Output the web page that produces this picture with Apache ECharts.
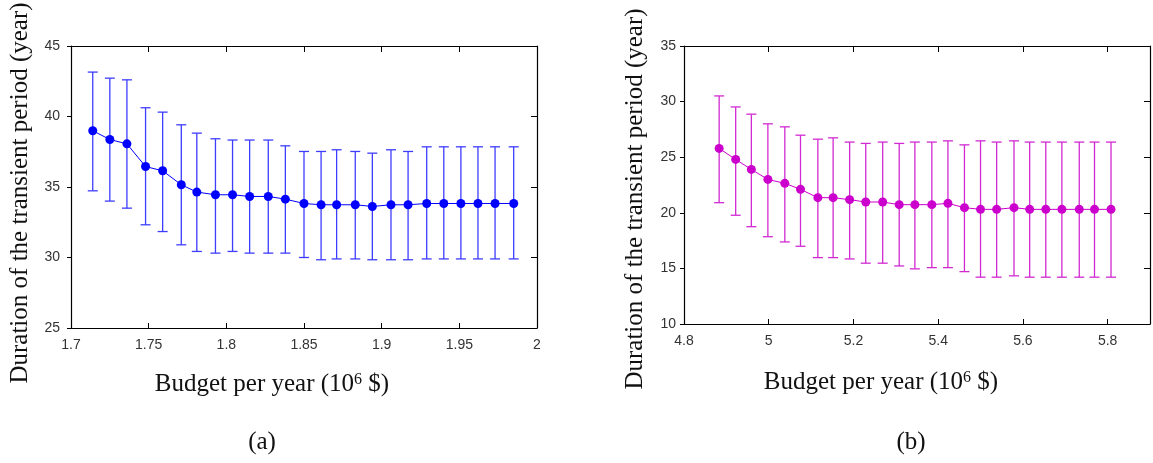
<!DOCTYPE html>
<html>
<head>
<meta charset="utf-8">
<script src="https://cdn.jsdelivr.net/npm/echarts@6/dist/echarts.min.js"></script>
<style>
html,body{margin:0;padding:0;background:#fff;}
#chart{width:1153px;height:463px;}
</style>
</head>
<body>
<div id="chart"></div>
<script>
// ---- Data ----
const budgetA = [1.714,1.725,1.736,1.748,1.759,1.771,1.781,1.793,1.804,1.815,1.827,1.838,1.850,1.861,1.871,1.883,1.894,1.906,1.917,1.929,1.940,1.951,1.962,1.973,1.985];
const meanA   = [38.99,38.37,38.06,36.45,36.15,35.16,34.64,34.45,34.45,34.33,34.33,34.14,33.83,33.74,33.74,33.74,33.62,33.74,33.74,33.83,33.83,33.83,33.83,33.83,33.83];
const upperA  = [43.15,42.72,42.60,40.62,40.31,39.41,38.82,38.42,38.33,38.33,38.33,37.92,37.52,37.52,37.64,37.52,37.40,37.64,37.52,37.85,37.85,37.85,37.85,37.85,37.85];
const lowerA  = [34.73,34.00,33.50,32.32,31.84,30.90,30.43,30.31,30.43,30.31,30.31,30.31,30.00,29.84,29.90,29.90,29.84,29.84,29.84,29.90,29.90,29.90,29.90,29.90,29.90];

const budgetB = [4.883,4.922,4.959,4.998,5.038,5.075,5.116,5.152,5.191,5.229,5.269,5.308,5.345,5.385,5.423,5.462,5.500,5.538,5.579,5.616,5.654,5.692,5.733,5.769,5.808];
const meanB   = [25.79,24.80,23.90,23.00,22.65,22.11,21.36,21.36,21.18,20.97,20.97,20.73,20.73,20.73,20.85,20.46,20.31,20.31,20.46,20.31,20.31,20.31,20.31,20.31,20.31];
const upperB  = [30.51,29.52,28.87,28.00,27.73,26.98,26.62,26.74,26.36,26.24,26.36,26.24,26.36,26.36,26.47,26.11,26.47,26.36,26.47,26.36,26.36,26.36,26.36,26.36,26.36];
const lowerB  = [20.91,19.78,18.75,17.85,17.38,16.99,15.97,15.97,15.85,15.47,15.47,15.22,14.96,15.07,15.07,14.71,14.21,14.21,14.33,14.21,14.21,14.21,14.21,14.21,14.21];

const xRangeA = {min: 1.7, max: 2.0, interval: 0.05};
const yRangeA = {min: 25, max: 45, interval: 5};
const xRangeB = {min: 4.8, max: 5.9, interval: 0.2};
const yRangeB = {min: 10, max: 35, interval: 5};

const xTitle = 'Budget per year (10{sup|6} $)';
const yTitle = 'Duration of the transient period (year)';
const panelLabels = ['(a)', '(b)'];

// ---- Chart ----
const chart = echarts.init(document.getElementById('chart'), null, {renderer: 'canvas'});
const serif = '"Liberation Serif", "Times New Roman", serif';
const labelFont = {fontFamily: '"Liberation Sans", Arial, sans-serif', fontSize: 14, color: '#333'};
const lineCol = '#000';

function xAxisPair(range, gridIndex, showMax) {
  return [
    Object.assign({type: 'value', gridIndex, position: 'bottom',
      axisLine: {show: true, onZero: false, lineStyle: {color: lineCol, width: 1.2}},
      axisTick: {show: true, inside: true, length: 5, lineStyle: {color: lineCol}},
      axisLabel: Object.assign({show: true, margin: 10, showMaxLabel: showMax, showMinLabel: true}, labelFont),
      splitLine: {show: false}}, range),
    Object.assign({type: 'value', gridIndex, position: 'top',
      axisLine: {show: true, onZero: false, lineStyle: {color: lineCol, width: 1.2}},
      axisTick: {show: true, inside: true, length: 6, lineStyle: {color: lineCol}},
      axisLabel: {show: false}, splitLine: {show: false}}, range)
  ];
}
function yAxisPair(range, gridIndex, margin) {
  return [
    Object.assign({type: 'value', gridIndex, position: 'left',
      axisLine: {show: true, onZero: false, lineStyle: {color: lineCol, width: 1.2}},
      axisTick: {show: true, inside: false, length: 4, lineStyle: {color: lineCol}},
      axisLabel: Object.assign({show: true, margin: margin, showMaxLabel: true, showMinLabel: true}, labelFont),
      splitLine: {show: false}}, range),
    Object.assign({type: 'value', gridIndex, position: 'right',
      axisLine: {show: true, onZero: false, lineStyle: {color: lineCol, width: 1.2}},
      axisTick: {show: true, inside: true, length: 6, lineStyle: {color: lineCol}},
      axisLabel: {show: false}, splitLine: {show: false}}, range)
  ];
}

function errorSeries(xs, lo, hi, xi, yi, color) {
  return {
    type: 'custom', xAxisIndex: xi, yAxisIndex: yi, z: 2,
    data: xs.map((x, i) => [x, lo[i], hi[i]]),
    renderItem: function (params, api) {
      const x = api.value(0);
      const pLo = api.coord([x, api.value(1)]);
      const pHi = api.coord([x, api.value(2)]);
      const w = 5;
      const st = {stroke: color, lineWidth: 1.3};
      return {type: 'group', children: [
        {type: 'line', shape: {x1: pLo[0], y1: pLo[1], x2: pHi[0], y2: pHi[1]}, style: st},
        {type: 'line', shape: {x1: pHi[0] - w, y1: pHi[1], x2: pHi[0] + w, y2: pHi[1]}, style: st},
        {type: 'line', shape: {x1: pLo[0] - w, y1: pLo[1], x2: pLo[0] + w, y2: pLo[1]}, style: st}
      ]};
    }
  };
}
function meanSeries(xs, ys, xi, yi, color) {
  return {
    type: 'line', xAxisIndex: xi, yAxisIndex: yi, z: 3,
    data: xs.map((x, i) => [x, ys[i]]),
    symbol: 'circle', symbolSize: 9, showSymbol: true,
    lineStyle: {color: color, width: 1},
    itemStyle: {color: color},
    animation: false
  };
}

const titleStyle = {fontFamily: serif, fontSize: 25, fill: '#111'};
const supRich = {sup: {fontFamily: serif, fontSize: 16, verticalAlign: 'top', fill: '#111'}};

const option = {
  backgroundColor: '#fff',
  animation: false,
  grid: [
    {left: 71, top: 46, width: 466, height: 282, containLabel: false, outerBoundsMode: 'none', show: false},
    {left: 684, top: 46, width: 466, height: 278, containLabel: false, outerBoundsMode: 'none', show: false}
  ],
  xAxis: [].concat(xAxisPair(xRangeA, 0, true), xAxisPair(xRangeB, 1, false)),
  yAxis: [].concat(yAxisPair(yRangeA, 0, 11), yAxisPair(yRangeB, 1, 8)),
  series: [
    errorSeries(budgetA, lowerA, upperA, 0, 0, '#3d3dff'),
    meanSeries(budgetA, meanA, 0, 0, '#0000ff'),
    errorSeries(budgetB, lowerB, upperB, 2, 2, '#d22ad2'),
    meanSeries(budgetB, meanB, 2, 2, '#cc00cc')
  ],
  graphic: [
    {type: 'text', x: 272, y: 384, style: Object.assign({text: xTitle, align: 'center', verticalAlign: 'middle', rich: supRich}, titleStyle)},
    {type: 'text', x: 881, y: 382, style: Object.assign({text: xTitle, align: 'center', verticalAlign: 'middle', rich: supRich}, titleStyle)},
    {type: 'text', x: 20, y: 193, rotation: Math.PI / 2, style: Object.assign({text: yTitle, align: 'center', verticalAlign: 'middle'}, titleStyle)},
    {type: 'text', x: 635, y: 199, rotation: Math.PI / 2, style: Object.assign({text: yTitle, align: 'center', verticalAlign: 'middle'}, titleStyle)},
    {type: 'text', x: 262, y: 442, style: Object.assign({text: panelLabels[0], align: 'center', verticalAlign: 'middle'}, titleStyle)},
    {type: 'text', x: 911, y: 442, style: Object.assign({text: panelLabels[1], align: 'center', verticalAlign: 'middle'}, titleStyle)}
  ]
};
chart.setOption(option);
</script>
</body>
</html>
